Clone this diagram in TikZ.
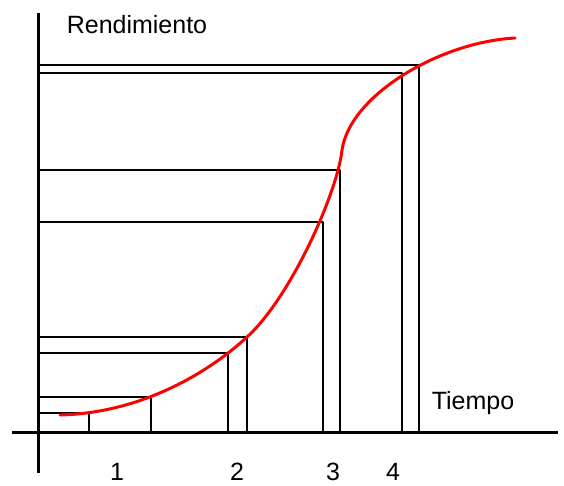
\documentclass[tikz,border=0pt]{standalone}
\usepackage{fontspec}
\setmainfont{Liberation Sans}
\usetikzlibrary{calc}

\begin{document}
\begin{tikzpicture}[line join=round,x=1pt,y=-1pt]
\tikzset{every node/.style={font=\fontsize{25}{29}\selectfont,inner sep=0pt}}
\useasboundingbox (0,0) rectangle (564,485);
% ejes
\draw[line width=3pt] (12,432)--(558,432);
\draw[line width=3pt] (38,13)--(38,473);
% rectangulos
\foreach \a/\b in {89/413,151/397,228/353,247/337,323/222,340/170,402/73,419/65}
  \draw[line width=1.3pt] (38,\b)--(\a,\b)--(\a,432);
% curva
\draw[red,line width=3pt,line cap=round] (60,415) .. controls (140,413) and (207,374) .. (247,337)
  .. controls (292,296) and (338,190) .. (342,150)
  .. controls (350,95) and (440,42) .. (515,38);
\node (rend) at (137,25) {Rendimiento};
\node (tiempo) at (473,403) {Tiempo};
\node (n1) at (117,472) {1};
\node (n2) at (237,472) {2};
\node (n3) at (333,472) {3};
\node (n4) at (393,472) {4};
\end{tikzpicture}
\end{document}
